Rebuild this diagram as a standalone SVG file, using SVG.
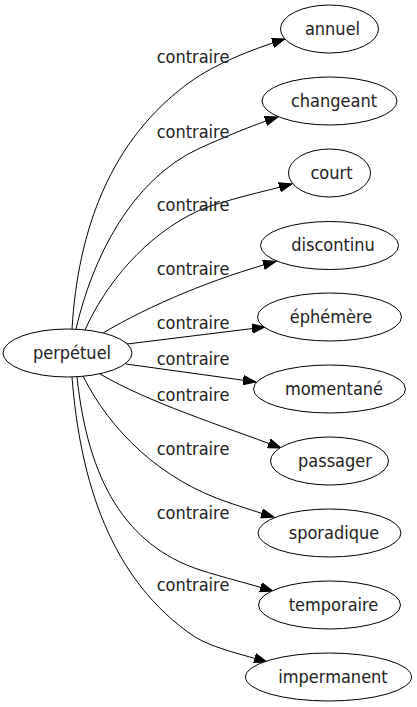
<svg xmlns="http://www.w3.org/2000/svg" width="417" height="707" viewBox="0 0 417 707">
<defs>
<style>
.n ellipse{fill:#fff;stroke:#000;stroke-width:1}
text{font-family:"DejaVu Sans","Liberation Sans",sans-serif;font-stretch:condensed;font-size:18px;fill:#222;text-anchor:middle}
.e path{fill:none;stroke:#000;stroke-width:1;marker-end:url(#ah)}
</style>
<marker id="ah" markerWidth="14" markerHeight="10" refX="13" refY="5" orient="auto" markerUnits="userSpaceOnUse">
<path d="M0,0.3 L13,5 L0,9.7 z" fill="#000" stroke="#000" stroke-width="1"/>
</marker>
</defs>
<rect width="417" height="707" fill="#fff"/>
<g id="edges" class="e">
<path d="M72,329 C78,230 110,140 190,82 C215,64 250,50 285,39"/>
<path d="M76,329 C92,260 130,180 200,148 C225,137 250,126 278,117"/>
<path d="M85,330 C105,285 145,235 200,210 C225,200 262,192 292,184"/>
<path d="M103,333 C150,305 215,278 276,261.5"/>
<path d="M127,344 L265,327"/>
<path d="M126,364 L256,382"/>
<path d="M100,374 C150,403 220,425 281,448"/>
<path d="M83,376 C110,430 160,480 230,503 C245,508 260,513 274,517"/>
<path d="M77,377 C88,480 125,545 200,570 C222,577 250,584 273,591"/>
<path d="M72,377 C80,480 110,580 195,637 C215,649 245,655 267,662"/>
</g>
<g id="labels">
<text x="193" y="62.5">contraire</text>
<text x="193" y="137.5">contraire</text>
<text x="193" y="210.5">contraire</text>
<text x="193" y="275">contraire</text>
<text x="193" y="329">contraire</text>
<text x="193" y="365">contraire</text>
<text x="193" y="401">contraire</text>
<text x="193" y="454.5">contraire</text>
<text x="193" y="518.5">contraire</text>
<text x="193" y="591">contraire</text>
</g>
<g id="perpetuel" class="n"><ellipse cx="67.5" cy="353" rx="64.5" ry="24"/><text x="72" y="358.5">perpétuel</text></g>
<g id="annuel" class="n"><ellipse cx="329.5" cy="29" rx="49" ry="24"/><text x="332.5" y="34.5">annuel</text></g>
<g id="changeant" class="n"><ellipse cx="329.5" cy="101" rx="67.5" ry="24"/><text x="334" y="106.5">changeant</text></g>
<g id="court" class="n"><ellipse cx="329.5" cy="173" rx="41" ry="24"/><text x="331.5" y="178.5">court</text></g>
<g id="discontinu" class="n"><ellipse cx="329.5" cy="245.5" rx="69" ry="24"/><text x="333" y="251">discontinu</text></g>
<g id="ephemere" class="n"><ellipse cx="329.5" cy="317" rx="72" ry="24"/><text x="331" y="322.5">éphémère</text></g>
<g id="momentane" class="n"><ellipse cx="329.5" cy="389" rx="76" ry="24"/><text x="334" y="394.5">momentané</text></g>
<g id="passager" class="n"><ellipse cx="329.5" cy="461" rx="59" ry="24"/><text x="335" y="466.5">passager</text></g>
<g id="sporadique" class="n"><ellipse cx="329.5" cy="533" rx="71.5" ry="24"/><text x="334" y="538.5">sporadique</text></g>
<g id="temporaire" class="n"><ellipse cx="329.5" cy="605" rx="71" ry="24"/><text x="333.5" y="610.5">temporaire</text></g>
<g id="impermanent" class="n"><ellipse cx="328.5" cy="677" rx="83" ry="24"/><text x="333" y="682.5">impermanent</text></g>
</svg>
